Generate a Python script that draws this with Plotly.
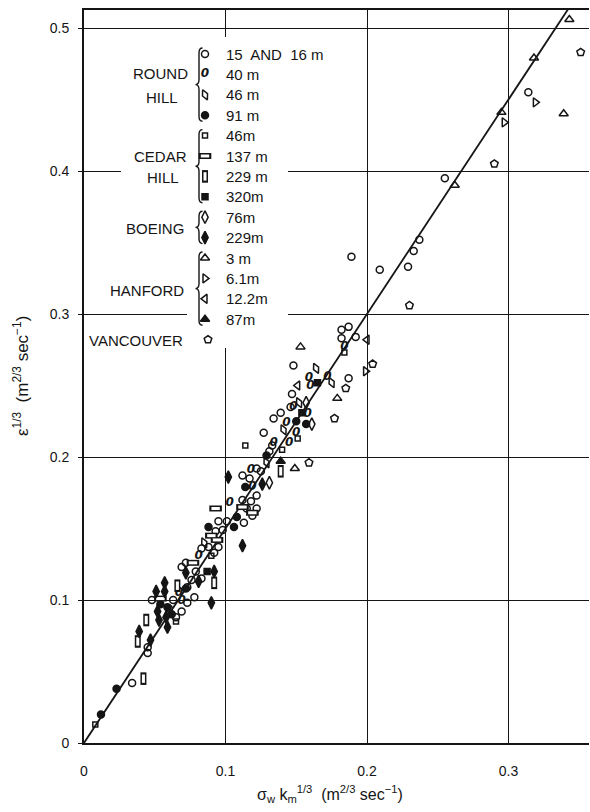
import plotly.graph_objects as go

# ---------------- data ----------------
# Round Hill 15 and 16 m (open circles)
rh15_x = [0.314, 0.255, 0.237, 0.233, 0.229, 0.209, 0.189, 0.182, 0.187, 0.182, 0.192, 0.148, 0.187,
          0.147, 0.146, 0.139, 0.134, 0.127, 0.133, 0.131, 0.125, 0.112, 0.122, 0.117, 0.122, 0.112,
          0.118, 0.115, 0.122, 0.119, 0.113, 0.101, 0.095, 0.098, 0.093, 0.083, 0.088, 0.095, 0.072,
          0.092, 0.079, 0.076, 0.073, 0.048, 0.073, 0.069, 0.065, 0.060, 0.045, 0.045, 0.034, 0.069,
          0.063, 0.078, 0.083]
rh15_y = [0.455, 0.395, 0.352, 0.344, 0.333, 0.331, 0.340, 0.289, 0.291, 0.283, 0.284, 0.264, 0.255,
          0.244, 0.235, 0.231, 0.227, 0.217, 0.208, 0.204, 0.190, 0.187, 0.192, 0.185, 0.173, 0.170,
          0.169, 0.164, 0.164, 0.159, 0.154, 0.155, 0.155, 0.149, 0.148, 0.136, 0.137, 0.137, 0.126,
          0.133, 0.120, 0.114, 0.109, 0.100, 0.098, 0.092, 0.088, 0.094, 0.067, 0.063, 0.042, 0.123,
          0.100, 0.102, 0.115]
# Round Hill 40 m
rh40_x = [0.184, 0.159, 0.172, 0.160, 0.148, 0.143, 0.158, 0.150, 0.134, 0.145, 0.118, 0.119, 0.103,
          0.081, 0.067, 0.069]
rh40_y = [0.277, 0.255, 0.256, 0.250, 0.235, 0.224, 0.230, 0.217, 0.210, 0.210, 0.191, 0.179, 0.168,
          0.131, 0.105, 0.099]
# Round Hill 46 m
rh46_x = [0.175, 0.152, 0.129, 0.164, 0.141, 0.085]
rh46_y = [0.252, 0.238, 0.196, 0.262, 0.219, 0.140]
# Round Hill 91 m
rh91_x = [0.150, 0.157, 0.129, 0.114, 0.108, 0.106, 0.088, 0.072, 0.059, 0.054, 0.023, 0.012, 0.062]
rh91_y = [0.225, 0.223, 0.201, 0.179, 0.158, 0.151, 0.151, 0.108, 0.095, 0.097, 0.038, 0.020, 0.090]
# Cedar Hill 46 m
ch46_x = [0.184, 0.151, 0.114, 0.140, 0.090, 0.065, 0.008]
ch46_y = [0.273, 0.213, 0.208, 0.205, 0.131, 0.085, 0.013]
# Cedar Hill 137 m
ch137_x = [0.119, 0.112, 0.090, 0.093, 0.094, 0.077, 0.054]
ch137_y = [0.161, 0.165, 0.145, 0.164, 0.142, 0.126, 0.101]
# Cedar Hill 229 m
ch229_x = [0.139, 0.092, 0.066, 0.044, 0.038, 0.042]
ch229_y = [0.190, 0.112, 0.110, 0.086, 0.071, 0.045]
# Cedar Hill 320 m
ch320_x = [0.165, 0.154, 0.087]
ch320_y = [0.252, 0.231, 0.120]
# Boeing 76 m
bo76_x = [0.161, 0.131, 0.157]
bo76_y = [0.223, 0.182, 0.238]
# Boeing 229 m
bo229_x = [0.102, 0.126, 0.112, 0.090, 0.072, 0.092, 0.081, 0.057, 0.057, 0.051, 0.052, 0.058, 0.059,
           0.053, 0.039, 0.047]
bo229_y = [0.186, 0.181, 0.138, 0.098, 0.119, 0.120, 0.113, 0.112, 0.106, 0.106, 0.092, 0.088, 0.081,
           0.086, 0.078, 0.072]
# Hanford 3 m
ha3_x = [0.343, 0.339, 0.295, 0.262, 0.153, 0.179, 0.149, 0.318]
ha3_y = [0.506, 0.440, 0.441, 0.390, 0.277, 0.241, 0.192, 0.479]
# Hanford 6.1 m
ha61_x = [0.319, 0.297, 0.199]
ha61_y = [0.448, 0.434, 0.260]
# Hanford 12.2 m
ha122_x = [0.200, 0.151]
ha122_y = [0.282, 0.250]
# Hanford 87 m
ha87_x = [0.139]
ha87_y = [0.197]
# Vancouver
van_x = [0.351, 0.290, 0.230, 0.204, 0.185, 0.177, 0.159]
van_y = [0.483, 0.405, 0.306, 0.265, 0.248, 0.227, 0.196]

# fitted line
fit_x = [0.0, 0.342]
fit_y = [0.0, 0.513]

# axis ticks
x_ticks = [0, 0.1, 0.2, 0.3]
x_tick_labels = ["0", "0.1", "0.2", "0.3"]
y_ticks = [0, 0.1, 0.2, 0.3, 0.4, 0.5]
y_tick_labels = ["0", "0.1", "0.2", "0.3", "0.4", "0.5"]

# legend labels
legend_labels = ["15  AND  16 m", "40 m", "46 m", "91 m", "46m", "137 m", "229 m", "320m",
                 "76m", "229m", "3 m", "6.1m", "12.2m", "87m", ""]

# ---------------- styles ----------------
INK = "#151515"
FONT = "Liberation Sans, Arial, sans-serif"

series = [
    (rh15_x, rh15_y, dict(kind="m", symbol="circle-open", size=7, angle=0)),
    (rh40_x, rh40_y, dict(kind="t", glyph="0", size=12, style="italic")),
    (rh46_x, rh46_y, dict(kind="m", symbol="diamond-tall-open", size=8, angle=-25)),
    (rh91_x, rh91_y, dict(kind="m", symbol="circle", size=7, angle=0)),
    (ch46_x, ch46_y, dict(kind="m", symbol="square-open", size=5, angle=0)),
    (ch137_x, ch137_y, dict(kind="rect", symbol="line-ew")),
    (ch229_x, ch229_y, dict(kind="rect", symbol="line-ns")),
    (ch320_x, ch320_y, dict(kind="m", symbol="square", size=6, angle=0)),
    (bo76_x, bo76_y, dict(kind="m", symbol="diamond-tall-open", size=9, angle=0)),
    (bo229_x, bo229_y, dict(kind="m", symbol="diamond-tall", size=9, angle=0)),
    (ha3_x, ha3_y, dict(kind="m", symbol="triangle-up-open", size=8, angle=0)),
    (ha61_x, ha61_y, dict(kind="m", symbol="triangle-right-open", size=8, angle=0)),
    (ha122_x, ha122_y, dict(kind="m", symbol="triangle-left-open", size=8, angle=0)),
    (ha87_x, ha87_y, dict(kind="m", symbol="triangle-up", size=8, angle=0)),
    (van_x, van_y, dict(kind="m", symbol="pentagon-open", size=8, angle=0)),
]

# pixel -> data helpers for layout placement (plot area: x 84..589, y 10..743)
def lx(px):
    return (px - 84) / 1415.0

def ly(py):
    return (743 - py) / 1430.0


def add_points(fig, xs, ys, st):
    if st["kind"] == "m":
        fig.add_trace(go.Scatter(
            x=xs, y=ys, mode="markers", showlegend=False, hoverinfo="skip",
            marker=dict(symbol=st["symbol"], size=st["size"], angle=st["angle"],
                        color=INK, line=dict(color=INK, width=1.5))))
    elif st["kind"] == "rect":
        # hollow rectangle: thick dark bar with a thinner white bar on top
        fig.add_trace(go.Scatter(
            x=xs, y=ys, mode="markers", showlegend=False, hoverinfo="skip",
            marker=dict(symbol=st["symbol"], size=9, color=INK,
                        line=dict(color=INK, width=6))))
        fig.add_trace(go.Scatter(
            x=xs, y=ys, mode="markers", showlegend=False, hoverinfo="skip",
            marker=dict(symbol=st["symbol"], size=6, color="white",
                        line=dict(color="white", width=3))))
    else:
        fig.add_trace(go.Scatter(
            x=xs, y=ys, mode="text", showlegend=False, hoverinfo="skip",
            text=[st["glyph"]] * len(xs), textposition="middle center",
            textfont=dict(family="DejaVu Sans", size=st["size"], color=INK,
                          weight="bold", style=st["style"])))


fig = go.Figure()

# fit line
fig.add_trace(go.Scatter(x=fit_x, y=fit_y, mode="lines", showlegend=False, hoverinfo="skip",
                         line=dict(color=INK, width=1.8)))

for xs, ys, st in series:
    add_points(fig, xs, ys, st)

# ---------------- key (legend) ----------------
KEY_X = 205
TEXT_X = 224
ROW0 = 54
STEP = 20.4
rows_py = [ROW0 + i * STEP for i in range(15)]

annotations = []
shapes = []

# white backing that interrupts grid lines behind the key
shapes.append(dict(type="rect", xref="x", yref="y", layer="between",
                   x0=lx(121), x1=lx(288), y0=ly(300), y1=ly(37),
                   fillcolor="white", line=dict(width=0)))
shapes.append(dict(type="rect", xref="x", yref="y", layer="between",
                   x0=lx(187), x1=lx(288), y0=ly(348), y1=ly(299),
                   fillcolor="white", line=dict(width=0)))

for i, (xs, ys, st) in enumerate(series):
    kx = KEY_X if i < 14 else 208
    add_points(fig, [lx(kx)], [ly(rows_py[i])], st)
    if legend_labels[i]:
        annotations.append(dict(x=lx(TEXT_X), y=ly(rows_py[i]), xref="x", yref="y",
                                text=legend_labels[i], showarrow=False, xanchor="left",
                                yanchor="middle", font=dict(family=FONT, size=15, color=INK)))

# group labels
group_text = [
    ("ROUND", 160, 73), ("HILL", 162, 97),
    ("CEDAR", 160, 156), ("HILL", 163, 177),
    ("BOEING", 155, 228), ("HANFORD", 147, 290), ("VANCOUVER", 136, 340),
]
for t, px, py in group_text:
    annotations.append(dict(x=lx(px), y=ly(py), xref="x", yref="y", text=t, showarrow=False,
                            xanchor="center", yanchor="middle",
                            font=dict(family=FONT, size=15, color=INK)))

# braces
def brace(x_spine, top, bottom, w=3.5, r=5):
    mid = (top + bottom) / 2.0
    pts = [
        ("M", [(x_spine + w, top)]),
        ("Q", [(x_spine, top), (x_spine, top + r)]),
        ("L", [(x_spine, mid - r)]),
        ("Q", [(x_spine, mid), (x_spine - w, mid)]),
        ("Q", [(x_spine, mid), (x_spine, mid + r)]),
        ("L", [(x_spine, bottom - r)]),
        ("Q", [(x_spine, bottom), (x_spine + w, bottom)]),
    ]
    s = ""
    for cmd, ps in pts:
        s += cmd + " " + " ".join(f"{lx(a):.5f},{ly(b):.5f}" for a, b in ps) + " "
    return s.strip()

for first, last in [(0, 3), (4, 7), (8, 9), (10, 13)]:
    shapes.append(dict(type="path", xref="x", yref="y", layer="above",
                       path=brace(199, rows_py[first] - 6, rows_py[last] + 6),
                       line=dict(color=INK, width=1.4)))

# axis titles
annotations.append(dict(xref="paper", yref="paper", x=(21 - 84) / 505.0, y=(743 - 376) / 733.0,
                        text="\u03b5<sup>1/3</sup>  (m<sup>2/3</sup> sec<sup>\u22121</sup>)",
                        textangle=-90, showarrow=False, xanchor="center", yanchor="middle",
                        font=dict(family=FONT, size=17, color=INK)))
annotations.append(dict(xref="paper", yref="paper", x=(330 - 84) / 505.0, y=(743 - 794) / 733.0,
                        text="\u03c3<sub>w</sub> k<sub>m</sub><sup>1/3</sup>  (m<sup>2/3</sup> sec<sup>\u22121</sup>)",
                        showarrow=False, xanchor="center", yanchor="middle",
                        font=dict(family=FONT, size=16, color=INK)))

fig.update_layout(
    width=590, height=812,
    margin=dict(l=84, r=1, t=10, b=69, autoexpand=False),
    paper_bgcolor="white", plot_bgcolor="white",
    showlegend=False,
    annotations=annotations,
    shapes=shapes,
    xaxis=dict(range=[0, 505 / 1415.0], tickvals=x_ticks, ticktext=x_tick_labels,
               showgrid=True, gridcolor=INK, gridwidth=1.2, zeroline=False,
               showline=True, linecolor=INK, linewidth=2, mirror=True,
               ticks="", ticklabelstandoff=14, automargin=False,
               tickfont=dict(family=FONT, size=14, color=INK), fixedrange=True),
    yaxis=dict(range=[0, 733 / 1430.0], tickvals=y_ticks, ticktext=y_tick_labels,
               showgrid=True, gridcolor=INK, gridwidth=1.2, zeroline=False,
               showline=True, linecolor=INK, linewidth=2, automargin=False,
               ticks="outside", ticklen=4, tickcolor=INK, ticklabelstandoff=6,
               tickfont=dict(family=FONT, size=14, color=INK), fixedrange=True),
)

fig.write_html("out.html", config={"displayModeBar": False},
               post_script="document.body.style.margin='0';document.body.style.padding='0';")
